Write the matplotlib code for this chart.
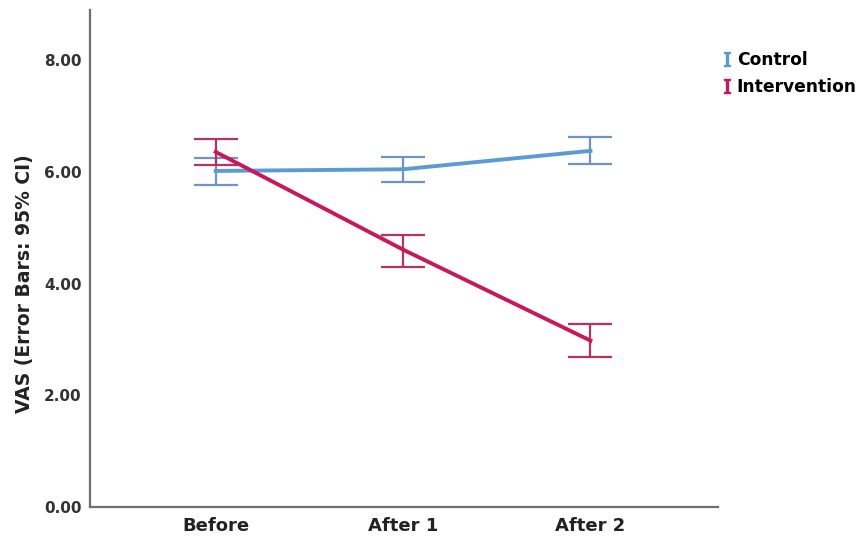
import matplotlib
matplotlib.use("Agg")
import matplotlib.pyplot as plt
from matplotlib.lines import Line2D
import numpy as np

plt.rcParams["mathtext.fontset"] = "dejavuserif"

times = ["Before", "After 1", "After 2"]
control_mean = [6.02, 6.05, 6.38]
control_lo = [5.77, 5.82, 6.14]
control_hi = [6.25, 6.27, 6.62]
interv_mean = [6.36, 4.61, 2.98]
interv_lo = [6.13, 4.30, 2.69]
interv_hi = [6.59, 4.88, 3.27]

blue = "#5b9bd5"
blue_bar = "#6f93c4"
red = "#c8175a"
red_bar = "#b8325e"

fig = plt.figure(figsize=(8.67, 5.37), dpi=100)
ax = fig.add_axes([0.104, 0.056, 0.724, 0.925])
x = np.arange(len(times))


def draw(mean, lo, hi, line_c, bar_c):
    mean = np.array(mean)
    err = [mean - np.array(lo), np.array(hi) - mean]
    ax.errorbar(x, mean, yerr=err, fmt="none", ecolor=bar_c, elinewidth=1.6,
                capsize=16, capthick=1.6, zorder=2)
    ax.plot(x, mean, color=line_c, lw=2.8, zorder=3)


draw(control_mean, control_lo, control_hi, blue, blue_bar)
draw(interv_mean, interv_lo, interv_hi, red, red_bar)

ax.set_xlim(-0.67, 2.68)
ax.set_ylim(0, 8.9)
ax.set_xticks(x)
ax.set_xticklabels(times, fontsize=13, fontweight="bold", color="#222222")
ax.set_yticks([0, 2, 4, 6, 8])
ax.set_yticklabels(["%.2f" % v for v in [0, 2, 4, 6, 8]], fontsize=11,
                   fontweight="bold", color="#333333")
ax.tick_params(axis="y", length=0, pad=6)
ax.tick_params(axis="x", length=0, pad=7)
ax.set_ylabel("VAS (Error Bars: 95% CI)", fontsize=13.5, fontweight="bold",
              color="#222222")
ax.yaxis.set_label_coords(-0.09, 0.45)
for s in ["top", "right"]:
    ax.spines[s].set_visible(False)
for s in ["left", "bottom"]:
    ax.spines[s].set_color("#6e6e6e")
    ax.spines[s].set_linewidth(1.6)

handles = [Line2D([], [], marker=r"$\mathrm{I}$", linestyle="none", color=c, markersize=10)
           for c in (blue, red)]
fig.legend(handles, ["Control", "Intervention"], loc="upper left",
           bbox_to_anchor=(0.828, 0.905), frameon=False, handletextpad=0.0,
           handlelength=1.1, labelspacing=0.5, borderaxespad=0, borderpad=0,
           prop={"weight": "bold", "size": 12.3})

fig.savefig("out.png", dpi=100)
